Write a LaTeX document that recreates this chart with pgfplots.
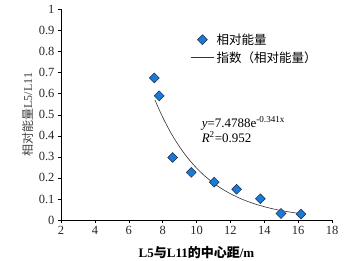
\documentclass[border=0pt]{standalone}
\usepackage{pgfplots}
\pgfplotsset{compat=1.18}
\usepackage{fontspec}
\setmainfont{Liberation Serif}
\newfontfamily\cjk{Noto Sans CJK SC}
\definecolor{mblue}{HTML}{1A7AD6}
\definecolor{mdark}{HTML}{1B2A48}
\pgfplotsset{
  markleg/.style={legend image code/.code={\path[draw=none] (0cm,0cm) -- (0.84cm,0cm);\path[##1, draw=none] plot coordinates {(0.42cm,0cm)};}},
  lineleg/.style={legend image code/.code={\draw[##1] (0cm,0cm) -- (0.84cm,0cm);}},
}
\begin{document}
\begin{tikzpicture}
\begin{axis}[
  scale only axis,
  width=271bp, height=210.5bp,
  xmin=2, xmax=18, ymin=0, ymax=1,
  axis x line*=bottom, axis y line*=left,
  axis line style={line width=0.6pt, black},
  xtick={2,4,...,18},
  ytick={0,0.1,...,1.0},
  yticklabels={0,0.1,0.2,0.3,0.4,0.5,0.6,0.7,0.8,0.9,1},
  tick align=outside,
  major tick length=3bp,
  tick style={black, line width=0.5pt},
  /pgf/number format/assume math mode=true,
  ticklabel style={font=\fontsize{12.5bp}{14bp}\selectfont, color=black!85},
  xlabel={\bfseries L5{\cjk 与}L11{\cjk 的中心距}/m},
  xlabel style={font=\fontsize{13bp}{15bp}\selectfont, yshift=-5bp},
  ylabel={{\cjk 相对能量}L5/L11},
  ylabel style={font=\fontsize{12bp}{14bp}\selectfont, color=black!75, yshift=-1bp},
  legend style={draw=none, fill=none, at={(0.465,0.905)}, anchor=north west,
    font=\fontsize{12.5bp}{14bp}\selectfont, row sep=2bp},
  legend cell align=left,
  clip=false,
]
\addplot[only marks, mark=square*, mark size=3.5bp,
  mark options={rotate=45, fill=mblue, draw=mdark, line width=0.5pt}, markleg]
  coordinates {
  (7.51,0.675) (7.80,0.590) (8.59,0.297) (9.69,0.226) (11.05,0.180)
  (12.37,0.146) (13.77,0.101) (14.99,0.031) (16.17,0.028)
  };
\addlegendentry{\cjk 相对能量}
\addplot[black!80, line width=0.6pt, smooth, lineleg]
  coordinates {
  (7.55,0.5697) (8.0,0.4888) (8.5,0.4122) (9.0,0.3476) (9.5,0.2930)
  (10.0,0.2471) (10.5,0.2084) (11.0,0.1757) (11.5,0.1481) (12.0,0.1249)
  (12.5,0.1053) (13.0,0.0888) (13.5,0.0749) (14.0,0.0632) (14.5,0.0533)
  (15.0,0.0449) (15.5,0.0379) (16.0,0.0319) (16.1,0.0309)
  };
\addlegendentry{\cjk 指数（相对能量）}
\node[anchor=west, align=left, font=\fontsize{13bp}{15bp}\selectfont, inner sep=0pt]
  at (axis cs:10.3,0.43) {\textit{y}=7.4788e\textsuperscript{-0.341x}\\\textit{R}\textsuperscript{2}=0.952};
\end{axis}
\pgfresetboundingbox
\path (current axis.south west) ++(-61bp,-41bp) coordinate (bl);
\path (current axis.north east) ++(13bp,9.5bp) coordinate (tr);
\path (bl) rectangle (tr);
\end{tikzpicture}
\end{document}
